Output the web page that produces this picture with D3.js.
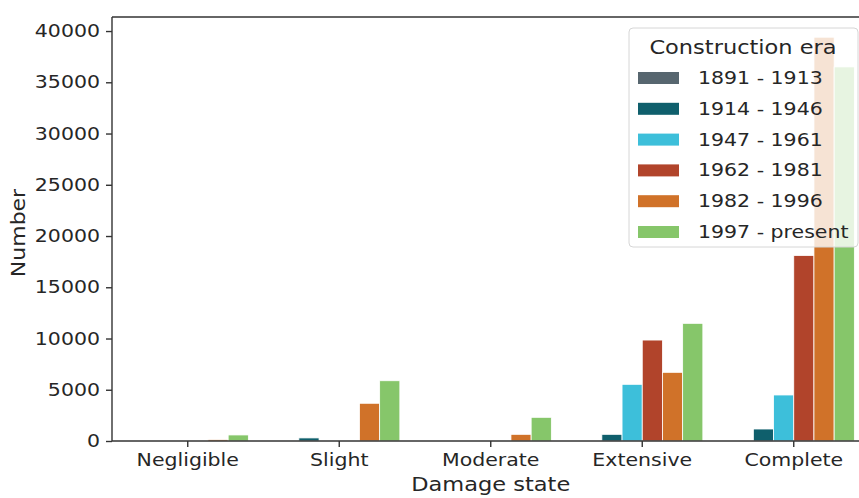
<!DOCTYPE html>
<html lang="en">
<head>
<meta charset="UTF-8">
<title>Damage state by construction era</title>
<style>
    body { margin: 0; background: #fff; }
    svg { display: block; }
    svg text { font-family: "DejaVu Sans", sans-serif; fill: #262626; }
    .axis text { font-size: 20.5px; }
    .axis path, .axis line { stroke: #333; stroke-width: 1.4; }
    /* glyphs in the figure are a bit flatter than DejaVu's */
    .flat { transform-box: fill-box; transform-origin: center; transform: scaleY(0.86); }
</style>
</head>
<body>
<div id="chart"></div>
<script src="https://d3js.org/d3.v7.min.js"></script>
<script>
    // Data
    const damageStates = ["Negligible", "Slight", "Moderate", "Extensive", "Complete"];
    const eras = ["1891 - 1913", "1914 - 1946", "1947 - 1961", "1962 - 1981", "1982 - 1996", "1997 - present"];
    const era1891 = [0, 0, 0, 0, 0];
    const era1914 = [0, 300, 0, 650, 1170];
    const era1947 = [0, 0, 0, 5530, 4490];
    const era1962 = [0, 0, 0, 9850, 18100];
    const era1982 = [150, 3680, 650, 6700, 39400];
    const era1997 = [590, 5880, 2310, 11480, 36500];
    const yTicks = [0, 5000, 10000, 15000, 20000, 25000, 30000, 35000, 40000];

    const series = [era1891, era1914, era1947, era1962, era1982, era1997];
    const colors = ["#57666f", "#0f5f6c", "#3dbfda", "#b1442b", "#d07229", "#86c66a"];

    const W = 859, H = 498;
    const margin = {top: 17, left: 112, bottom: 57};
    const step = 151.5;

    const svg = d3.select("#chart").append("svg")
        .attr("width", W).attr("height", H);

    const x = d3.scaleBand()
        .domain(damageStates)
        .range([margin.left, margin.left + step * damageStates.length])
        .padding(0);

    const xHue = d3.scaleBand()
        .domain(eras)
        .range([x.bandwidth() * 0.1, x.bandwidth() * 0.9])
        .padding(0);

    const y = d3.scaleLinear()
        .domain([0, 41370])
        .range([H - margin.bottom, margin.top]);

    // bars
    const rows = [];
    series.forEach((vals, i) => {
        vals.forEach((v, j) => rows.push({era: eras[i], state: damageStates[j], value: v, color: colors[i]}));
    });

    svg.append("g").selectAll("rect")
        .data(rows.filter(d => d.value > 0))
        .join("rect")
        .attr("x", d => x(d.state) + xHue(d.era))
        .attr("width", xHue.bandwidth())
        .attr("y", d => y(d.value))
        .attr("height", d => y(0) - y(d.value))
        .attr("fill", d => d.color)
        .attr("stroke", "#fff")
        .attr("stroke-width", 0.8);

    // axes
    const xAxis = svg.append("g")
        .attr("class", "axis")
        .attr("transform", `translate(0,${y(0)})`)
        .call(d3.axisBottom(x).tickSize(6).tickPadding(5).tickSizeOuter(0));
    xAxis.select(".domain").remove();
    xAxis.append("line")
        .attr("x1", margin.left).attr("x2", W + 20)
        .attr("stroke", "#333").attr("stroke-width", 1.4);
    xAxis.selectAll(".tick text").attr("class", "flat");

    const yAxis = svg.append("g")
        .attr("class", "axis")
        .attr("transform", `translate(${margin.left},0)`)
        .call(d3.axisLeft(y).tickValues(yTicks).tickFormat(d3.format("d"))
            .tickSize(6).tickPadding(6).tickSizeOuter(0));
    yAxis.select(".domain").attr("d", `M0,${y(0)}V${margin.top}`);
    yAxis.selectAll(".tick text").attr("class", "flat");

    // top spine
    svg.append("line")
        .attr("x1", margin.left).attr("x2", W + 20)
        .attr("y1", margin.top).attr("y2", margin.top)
        .attr("stroke", "#333").attr("stroke-width", 1.4);

    // axis titles
    svg.append("text")
        .attr("class", "flat")
        .attr("x", x("Moderate") + x.bandwidth() / 2)
        .attr("y", 492)
        .attr("text-anchor", "middle")
        .attr("font-size", 22.5)
        .text("Damage state");

    svg.append("g")
        .attr("transform", `translate(26,${(y(0) + margin.top) / 2 + 4}) rotate(-90)`)
        .append("text")
        .attr("class", "flat")
        .attr("text-anchor", "middle")
        .attr("font-size", 22)
        .text("Number");

    // legend
    const lg = svg.append("g").attr("transform", "translate(629,28)");
    lg.append("rect")
        .attr("width", 229).attr("height", 219)
        .attr("rx", 4)
        .attr("fill", "#fff").attr("fill-opacity", 0.8)
        .attr("stroke", "#d6d6d6").attr("stroke-width", 1);
    lg.append("text")
        .attr("class", "flat")
        .attr("x", 114).attr("y", 27)
        .attr("text-anchor", "middle")
        .attr("font-size", 22.5)
        .text("Construction era");
    const items = lg.selectAll("g.item")
        .data(eras)
        .join("g")
        .attr("class", "item")
        .attr("transform", (d, i) => `translate(0,${50 + i * 30.8})`);
    items.append("rect")
        .attr("x", 9).attr("y", -6)
        .attr("width", 41).attr("height", 12)
        .attr("fill", (d, i) => colors[i]);
    items.append("text")
        .attr("class", "flat")
        .attr("x", 69).attr("y", 7)
        .attr("font-size", 20.5)
        .text(d => d);
</script>
</body>
</html>
